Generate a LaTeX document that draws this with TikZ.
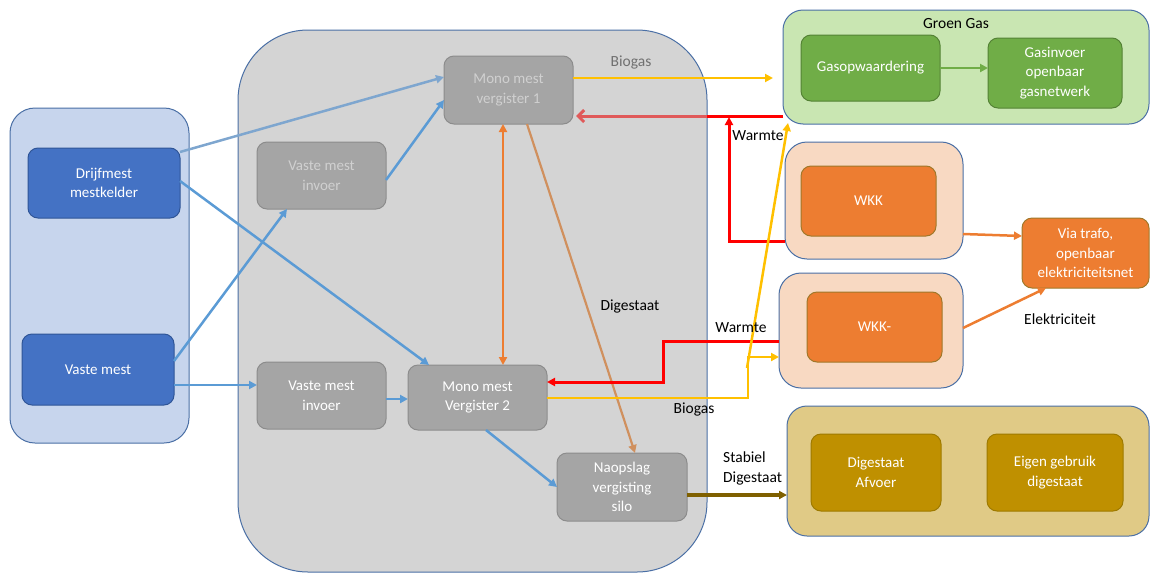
\documentclass[tikz,border=0pt]{standalone}
\usepackage{fontspec}
\setmainfont{Carlito}
\usetikzlibrary{arrows.meta}
\definecolor{contb}{HTML}{4A6FA5}
\definecolor{lblue}{HTML}{C7D5ED}
\definecolor{dblue}{HTML}{4472C4}
\definecolor{dblueb}{HTML}{2F5597}
\definecolor{lgrey}{HTML}{D4D4D4}
\definecolor{mgrey}{HTML}{A5A5A5}
\definecolor{mgreyb}{HTML}{8C8C8C}
\definecolor{fadetxt}{HTML}{D0D0D0}
\definecolor{lgreen}{HTML}{C9E6B2}
\definecolor{dgreen}{HTML}{70AD47}
\definecolor{dgreenb}{HTML}{548235}
\definecolor{lorange}{HTML}{F8D9C2}
\definecolor{dorange}{HTML}{ED7D31}
\definecolor{dorangeb}{HTML}{A0782A}
\definecolor{lgold}{HTML}{E0CA86}
\definecolor{dgold}{HTML}{BF9000}
\definecolor{dgoldb}{HTML}{9E7A00}
\definecolor{arrblue}{HTML}{5B9BD5}
\definecolor{arrblue2}{HTML}{7EA6CF}
\definecolor{yel}{HTML}{FFC000}
\definecolor{tan}{HTML}{D0905E}
\definecolor{olive}{HTML}{7F6000}
\definecolor{mutedred}{HTML}{E05A5A}
\definecolor{labgrey}{HTML}{707070}
\tikzset{
  cont/.style={draw=contb, line width=1pt, inner sep=0pt, outer sep=0pt},
  box/.style={rounded corners=10pt, line width=1pt, inner sep=0pt, outer sep=0pt, align=center,
    font=\fontsize{15}{19.5}\selectfont},
  bluebox/.style={box, fill=dblue, draw=dblueb, text=white},
  greybox/.style={box, fill=mgrey, draw=mgreyb, text=white},
  fadebox/.style={box, fill=mgrey, draw=mgreyb, text=fadetxt},
  greenbox/.style={box, fill=dgreen, draw=dgreenb, text=white},
  orangebox/.style={box, fill=dorange, draw=dorangeb, text=white},
  goldbox/.style={box, fill=dgold, draw=dgoldb, text=white},
  arr/.style={-{Triangle[length=8pt,width=8pt]}},
  lab/.style={font=\fontsize{15.5}{20}\selectfont, inner sep=0pt, align=left}
}
\begin{document}
\begin{tikzpicture}[x=1pt,y=-1pt]
\useasboundingbox (0,0) rectangle (1150,573);
% containers
\node[cont, fill=lblue, rounded corners=25pt, minimum width=179pt, minimum height=335pt] (L) at (99.5,275.5) {};
\node[cont, fill=lgrey, rounded corners=70pt, minimum width=469pt, minimum height=542pt] (G) at (472.5,301) {};
\node[cont, fill=lgreen, rounded corners=20pt, minimum width=366pt, minimum height=114pt] (GG) at (966,67) {};
\node[cont, fill=lorange, rounded corners=22pt, minimum width=178pt, minimum height=117pt] (W1c) at (874,200.5) {};
\node[cont, fill=lorange, rounded corners=22pt, minimum width=184pt, minimum height=115pt] (W2c) at (871,330.5) {};
\node[cont, fill=lgold, rounded corners=20pt, minimum width=362pt, minimum height=130pt] (DC) at (968,471) {};
% inner boxes
\node[bluebox, minimum width=152pt, minimum height=70pt] (D1) at (104,183) {Drijfmest\\mestkelder};
\node[bluebox, minimum width=152pt, minimum height=71pt] (VM) at (98,369.5) {Vaste mest};
\node[fadebox, minimum width=129pt, minimum height=68pt] (V1) at (508.5,90) {Mono mest\\vergister 1};
\node[fadebox, minimum width=129pt, minimum height=67pt] (I1) at (321.5,175.5) {Vaste mest\\invoer};
\node[greybox, minimum width=129pt, minimum height=67pt] (I2) at (321.5,395.5) {Vaste mest\\invoer};
\node[greybox, minimum width=139pt, minimum height=65pt] (V2) at (477.5,397.5) {Mono mest\\Vergister 2};
\node[greybox, minimum width=130pt, minimum height=68pt] (N) at (622,487) {Naopslag\\vergisting\\silo};
\node[greenbox, minimum width=139pt, minimum height=66pt] (GO) at (870.5,68) {Gasopwaardering};
\node[greenbox, minimum width=134pt, minimum height=70pt] (GI) at (1055,73) {Gasinvoer\\openbaar\\gasnetwerk};
\node[orangebox, minimum width=135pt, minimum height=70pt] (W1) at (868.5,201) {WKK};
\node[orangebox, minimum width=135pt, minimum height=70pt] (W2) at (874.5,327) {WKK-};
\node[orangebox, minimum width=127pt, minimum height=70pt] (T) at (1085.5,253) {Via trafo,\\openbaar\\elektriciteitsnet};
\node[goldbox, minimum width=130pt, minimum height=77pt] (DA) at (876,472.5) {Digestaat\\Afvoer};
\node[goldbox, minimum width=136pt, minimum height=77pt] (EG) at (1055,472.5) {Eigen gebruik\\digestaat};
% free coordinates
\coordinate (bg1) at (773,78);
\coordinate (wa1) at (729,241);
\coordinate (wa2) at (729,117);
\coordinate (wb1) at (663,341);
\coordinate (wb2) at (663,382);
\coordinate (ya) at (748,398);
\coordinate (yb) at (748,357);
\coordinate (yc) at (747,368);
\coordinate (yd) at (788,123);
% blue arrows
\draw[arr, arrblue2, line width=2.5pt] (D1.east |- 0,152) -- (V1.west |- 0,77);
\draw[arr, arrblue, line width=2.5pt] (D1.east |- 0,181) -- (V2.north -| 429,0);
\draw[arr, arrblue, line width=2.5pt] (VM.east |- 0,361) -- (I1.south -| 287,0);
\draw[arr, arrblue, line width=2.5pt] (VM.east |- 0,385) -- (I2.west |- 0,385);
\draw[arr, arrblue, line width=2.5pt] (I1.east |- 0,180) -- (V1.west |- 0,100);
\draw[arr, arrblue, line width=2.5pt] (I2.east |- 0,399) -- (V2.west |- 0,399);
\draw[arr, arrblue, line width=2.5pt] (V2.south -| 486,0) -- (N.west |- 0,487);
% orange double arrow
\draw[{Triangle[length=8pt,width=8pt]}-{Triangle[length=8pt,width=8pt]}, dorange, line width=2.5pt] (V1.south -| 503,0) -- (V2.north -| 503,0);
% digestaat
\draw[arr, tan, line width=2.2pt] (V1.south -| 527,0) -- (N.north -| 635,0);
% biogas top
\draw[arr, yel, line width=2.5pt] (V1.east |- 0,78) -- (bg1);
% red warmte to V1
\draw[-{Straight Barb[length=6pt,width=12pt]}, mutedred, line width=3pt, shorten >=3pt] (GG.west |- 0,116) -- (V1.east |- 0,116);
\draw[red, line width=3pt] (GG.west |- 0,116) -- (G.east |- 0,116);
\draw[arr, red, line width=3pt] (W1c.west |- 0,241) -- (wa1) -- (wa2);
\draw[arr, red, line width=3pt] (W2c.west |- 0,341) -- (wb1) -- (wb2) -- (V2.east |- 0,382);
% yellow biogas lower
\draw[arr, yel, line width=2.5pt] (V2.east |- 0,398) -- (ya) -- (yb) -- (W2c.west |- 0,357);
\draw[arr, yel, line width=2.5pt] (yc) -- (yd);
% green
\draw[arr, dgreen, line width=2.5pt] (GO.east) -- (GI.west |- 0,68);
% electricity
\draw[arr, dorange, line width=2.5pt] (W1c.east |- 0,234) -- (T.west |- 0,236);
\draw[arr, dorange, line width=2.5pt] (W2c.east |- 0,328) -- (T.south -| 1046,0);
% stabiel digestaat
\draw[arr, olive, line width=3.5pt] (N.east |- 0,495) -- (DC.west |- 0,495);
% labels
\node[lab, text=labgrey] (lbio1) at (631,62) {Biogas};
\node[lab] (lgg) at (956,24) {Groen Gas};
\node[lab] (lwa1) at (758,136) {Warmte};
\node[lab] (lwa2) at (741,328) {Warmte};
\node[lab] (ldig) at (630,306) {Digestaat};
\node[lab] (lbio2) at (694,409) {Biogas};
\node[lab, anchor=west] (lstab) at (723,468) {Stabiel\\Digestaat};
\node[lab] (lel) at (1060,319) {Elektriciteit};
\end{tikzpicture}
\end{document}
